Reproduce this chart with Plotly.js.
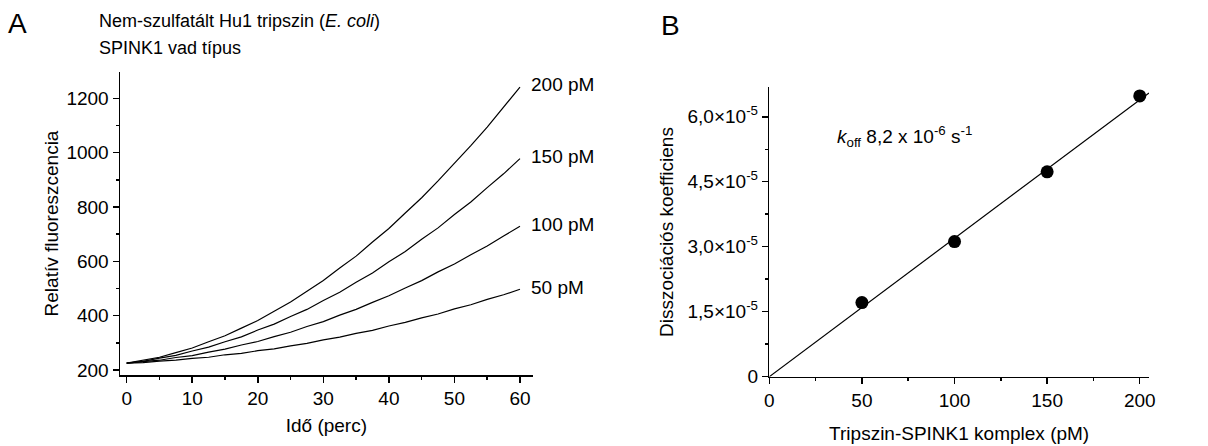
<!DOCTYPE html>
<html>
<head>
<meta charset="utf-8">
<script src="https://cdn.plot.ly/plotly-3.0.1.min.js"></script>
<style>html,body{margin:0;padding:0;background:#fff;}#chart{width:1208px;height:446px;}</style>
</head>
<body>
<div id="chart"></div>
<script>
// Panel A: time (min) and relative fluorescence curves
const timeMin = [0,2.5,5,7.5,10,12.5,15,17.5,20,22.5,25,27.5,30,32.5,35,37.5,40,42.5,45,47.5,50,52.5,55,57.5,60];
const fluo200 = [225,236,247,264,281,304,326,354,382,416,450,490,529,575,619,671,721,778,834,896,959,1026,1094,1166,1241];
const fluo150 = [225,232,244,254,270,284,304,322,347,369,397,423,456,486,523,557,598,636,681,723,772,818,871,922,978];
const fluo100 = [225,231,236,246,253,266,277,292,305,323,339,360,378,402,423,449,473,502,529,561,590,624,656,693,729];
const fluo50  = [225,227,233,236,243,247,256,261,271,278,289,298,311,321,335,346,362,375,392,406,425,440,460,477,497];
const curveLabels = ["200 pM","150 pM","100 pM","50 pM"];
const titleLines = ["Nem-szulfatált Hu1 tripszin (<i>E. coli</i>)", "SPINK1 vad típus"];

// Panel B: complex concentration vs dissociation coefficient
const complexPM = [50,100,150,200];
const dissCoef = [1.71e-5,3.12e-5,4.73e-5,6.48e-5];
const fitX = [0,205];
const fitY = [0,6.55e-5];
const bTickVals = [0,1.5e-5,3.0e-5,4.5e-5,6.0e-5];
const bTickText = ["0","1,5×10<sup>-5</sup>","3,0×10<sup>-5</sup>","4,5×10<sup>-5</sup>","6,0×10<sup>-5</sup>"];

const FONT = "Liberation Sans, Arial, sans-serif";
const FS = 19;
const W = 1208, H = 446;
const line = {color:"#000", width:1.2};
const curves = [fluo200, fluo150, fluo100, fluo50];

const traces = curves.map((ys,i)=>({
  x: timeMin, y: ys, type:"scatter", mode:"lines", line: line,
  xaxis:"x", yaxis:"y", showlegend:false, hoverinfo:"skip", name: curveLabels[i]
}));
traces.push({x: fitX, y: fitY, type:"scatter", mode:"lines", line:{color:"#000", width:1.2},
  xaxis:"x2", yaxis:"y2", showlegend:false, cliponaxis:false});
traces.push({x: complexPM, y: dissCoef, type:"scatter", mode:"markers",
  marker:{color:"#000", size:13}, xaxis:"x2", yaxis:"y2", showlegend:false, cliponaxis:false});

const axBase = {
  showline:true, linecolor:"#000", linewidth:1.5, ticks:"outside", ticklen:6, tickwidth:1.5,
  tickcolor:"#000", showgrid:false, zeroline:false, tickfont:{family:FONT, size:FS, color:"#000"},
  fixedrange:true
};
const minorBase = {ticks:"outside", ticklen:3, tickwidth:1.5, tickcolor:"#000"};

const annotations = curves.map((ys,i)=>({
  x: 61.4, y: ys[ys.length-1] + 8, xref:"x", yref:"y", text: curveLabels[i], showarrow:false,
  xanchor:"left", yanchor:"middle", font:{family:FONT, size:FS, color:"#000"}
}));
annotations.push({x: 97/W, y: 1-21/H, xref:"paper", yref:"paper", text: titleLines[0], showarrow:false,
  xanchor:"left", yanchor:"middle", font:{family:FONT, size:18, color:"#000"}});
annotations.push({x: 97/W, y: 1-48/H, xref:"paper", yref:"paper", text: titleLines[1], showarrow:false,
  xanchor:"left", yanchor:"middle", font:{family:FONT, size:18, color:"#000"}});
annotations.push({x: 6/W, y: 1-23/H, xref:"paper", yref:"paper", text:"A", showarrow:false,
  xanchor:"left", yanchor:"middle", font:{family:FONT, size:28, color:"#000"}});
annotations.push({x: 659/W, y: 1-26/H, xref:"paper", yref:"paper", text:"B", showarrow:false,
  xanchor:"left", yanchor:"middle", font:{family:FONT, size:28, color:"#000"}});
annotations.push({x: 835/W, y: 1-136/H, xref:"paper", yref:"paper",
  text:"<i>k</i><sub>off</sub> 8,2 x 10<sup>-6</sup> s<sup>-1</sup>", showarrow:false,
  xanchor:"left", yanchor:"middle", font:{family:FONT, size:FS, color:"#000"}});

const layout = {
  width: W, height: H, margin:{l:0,r:0,t:0,b:0}, paper_bgcolor:"#fff", plot_bgcolor:"#fff",
  font:{family:FONT, color:"#000"},
  xaxis: Object.assign({}, axBase, {domain:[120/W, 532.7/W], range:[-1.02, 61.94],
    tick0:0, dtick:10, minor:Object.assign({dtick:5, tick0:0}, minorBase),
    title:{text:"Idő (perc)", font:{family:FONT, size:FS, color:"#000"}, standoff:10},
    anchor:"y"}),
  yaxis: Object.assign({}, axBase, {domain:[(H-375)/H, (H-72)/H], range:[181.6, 1296.7],
    tick0:200, dtick:200, minor:Object.assign({dtick:100, tick0:0}, minorBase),
    title:{text:"Relatív fluoreszcencia", font:{family:FONT, size:FS, color:"#000"}, standoff:3},
    anchor:"x"}),
  xaxis2: Object.assign({}, axBase, {domain:[769.3/W, 1149/W], range:[0, 205],
    tick0:0, dtick:50, minor:Object.assign({dtick:25, tick0:0}, minorBase),
    title:{text:"Tripszin-SPINK1 komplex (pM)", font:{family:FONT, size:FS, color:"#000"}, standoff:16},
    anchor:"y2"}),
  yaxis2: Object.assign({}, axBase, {domain:[(H-376.7)/H, (H-87.3)/H], range:[0, 6.68e-5],
    tickmode:"array", tickvals:bTickVals, ticktext:bTickText,
    minor:Object.assign({dtick:7.5e-6, tick0:0}, minorBase),
    title:{text:"Disszociációs koefficiens", font:{family:FONT, size:FS, color:"#000"}, standoff:9},
    anchor:"x2"}),
  annotations: annotations
};

Plotly.newPlot("chart", traces, layout, {displayModeBar:false, staticPlot:true});
</script>
</body>
</html>
